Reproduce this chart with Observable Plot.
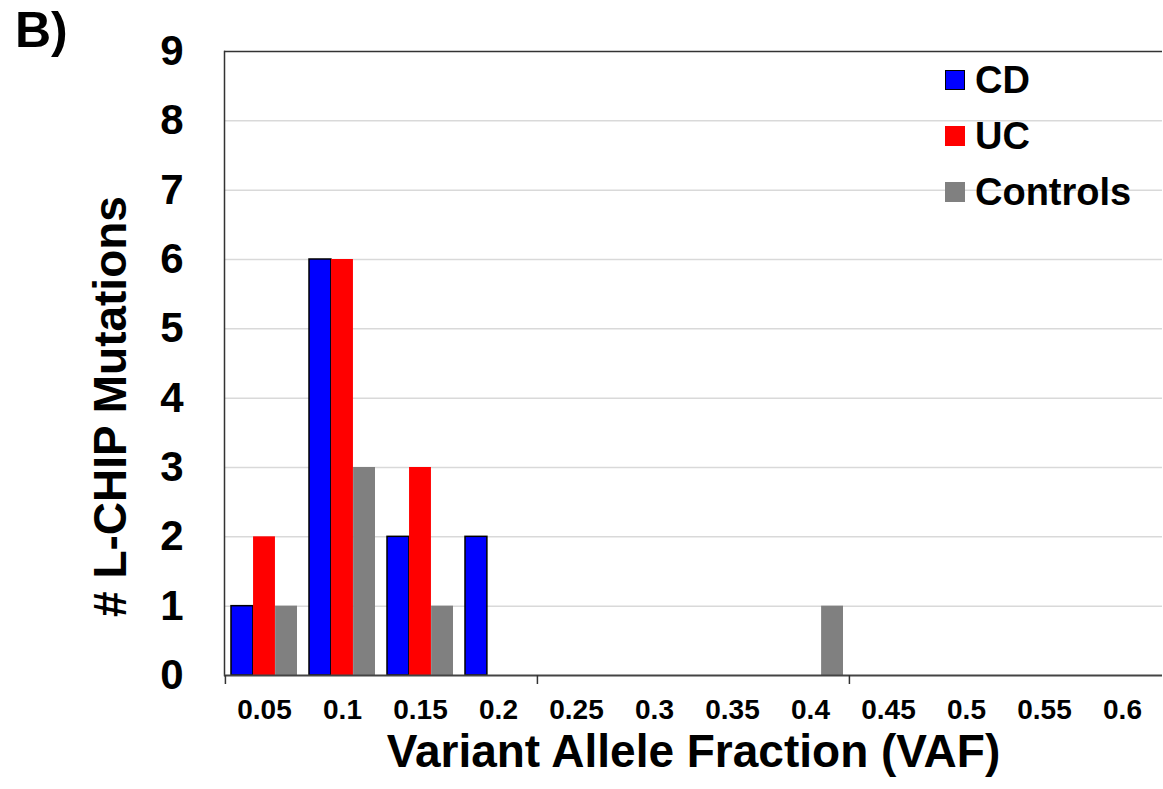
<!DOCTYPE html>
<html>
<head>
<meta charset="utf-8">
<script src="https://cdn.jsdelivr.net/npm/d3@7"></script>
<script src="https://cdn.jsdelivr.net/npm/@observablehq/plot@0.6"></script>
<style>
  html, body { margin: 0; padding: 0; background: #fff; }
  #wrap { position: relative; width: 1163px; height: 789px; font-family: Arial, "Liberation Sans", sans-serif; }
  #panel { position: absolute; left: 15px; top: 5px; font-size: 50px; font-weight: bold; color: #000; line-height: 1; }
  #legend { position: absolute; left: 945px; top: 52px; }
  .item { display: flex; align-items: center; height: 56px; font-size: 38px; font-weight: bold; color: #000; }
  .sw { width: 20px; height: 20px; margin-right: 10px; box-sizing: border-box; }
</style>
</head>
<body>
<div id="wrap">
  <div id="chart"></div>
  <div id="panel">B)</div>
  <div id="legend"></div>
</div>
<script>
// ---- data ----
const categories = ["0.05","0.1","0.15","0.2","0.25","0.3","0.35","0.4","0.45","0.5","0.55","0.6"];
const seriesNames = ["CD","UC","Controls"];
const cdCounts       = [1,6,2,2,0,0,0,0,0,0,0,0];
const ucCounts       = [2,6,3,0,0,0,0,0,0,0,0,0];
const controlsCounts = [1,3,1,0,0,0,0,1,0,0,0,0];
const yTicks = [0,1,2,3,4,5,6,7,8,9];
const gridTicks = [1,2,3,4,5,6,7,8];
const xTickMarks = ["0.05","0.25","0.45"];
const seriesColors = ["#0000ff","#ff0000","#808080"];
const yLabel = "# L-CHIP Mutations";
const xLabel = "Variant Allele Fraction (VAF)";

const countsBySeries = [cdCounts, ucCounts, controlsCounts];
const table = [];
seriesNames.forEach((s, i) => categories.forEach((c, j) => table.push({series: s, vaf: c, count: countsBySeries[i][j]})));

// ---- layout ----
const W = 1163, H = 789;
const mL = 224, mR = 1, mT = 51, mB = 114;
const bw = (W - mL - mR) / categories.length;
const outerPad = 6;
const barW = (bw - 2 * outerPad) / seriesNames.length;

const barMarks = seriesNames.map((s, i) =>
  Plot.barY(table.filter(d => d.series === s && d.count > 0), {
    x: "vaf", y: "count",
    fill: seriesColors[i],
    stroke: s === "CD" ? "#000" : "none",
    strokeWidth: 1.5,
    insetLeft: outerPad + i * barW,
    insetRight: bw - outerPad - (i + 1) * barW
  })
);

const chart = Plot.plot({
  width: W, height: H,
  marginLeft: mL, marginRight: mR, marginTop: mT, marginBottom: mB,
  style: {fontFamily: "Arial, 'Liberation Sans', sans-serif", background: "#fff", color: "#000"},
  x: {type: "band", domain: categories, padding: 0, axis: null},
  y: {domain: [0, 9], axis: null},
  marks: [
    Plot.gridY(gridTicks, {stroke: "#d9d9d9", strokeOpacity: 1, strokeWidth: 1.5}),
    Plot.ruleY([9], {stroke: "#333", strokeWidth: 1.5}),
    Plot.frame({anchor: "left", stroke: "#333", strokeWidth: 1.5}),
    ...barMarks,
    Plot.ruleY([0], {stroke: "#444", strokeWidth: 2}),
    Plot.axisX(xTickMarks, {tickSize: 9, tickFormat: () => "", label: null, dx: -bw / 2, stroke: "#333", strokeWidth: 1.5}),
    Plot.axisX({tickSize: 0, tickPadding: 24, fontSize: 28, fontWeight: "bold", label: null}),
    Plot.axisY(yTicks, {tickSize: 0, tickPadding: 41, fontSize: 42, fontWeight: "bold", label: null, tickFormat: d => String(d)}),
    Plot.text([yLabel], {frameAnchor: "left", textAnchor: "middle", rotate: -90, dx: -113, dy: 43, fontSize: 46, fontWeight: "bold", fill: "#000"}),
    Plot.text([xLabel], {frameAnchor: "bottom", dy: 91, fontSize: 46, fontWeight: "bold", fill: "#000"})
  ]
});
document.getElementById("chart").appendChild(chart);

// ---- legend ----
const legend = document.getElementById("legend");
seriesNames.forEach((s, i) => {
  const item = document.createElement("div");
  item.className = "item";
  const sw = document.createElement("span");
  sw.className = "sw";
  sw.style.background = seriesColors[i];
  if (s === "CD") sw.style.border = "1.5px solid #000";
  item.appendChild(sw);
  item.appendChild(document.createTextNode(s));
  legend.appendChild(item);
});
</script>
</body>
</html>
